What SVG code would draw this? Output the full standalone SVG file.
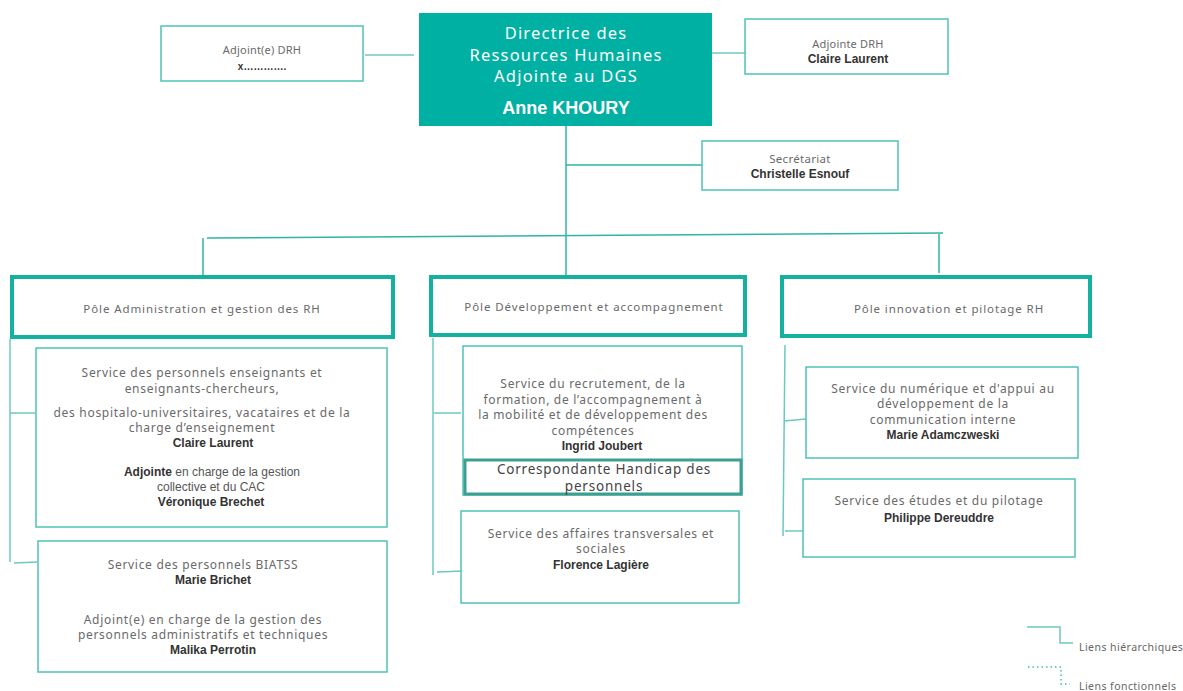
<svg xmlns="http://www.w3.org/2000/svg" width="1183" height="691" viewBox="0 0 1183 691">
<style>
  .bg{fill:#ffffff}
  .box{fill:#ffffff;stroke:#4ec3b6;stroke-width:1.5}
  .pole{fill:#ffffff;stroke:#14b0a0;stroke-width:4}
  .inner{fill:#ffffff;stroke:#3e9e92;stroke-width:3}
  .t{font-family:"Noto Sans","Open Sans",sans-serif;font-size:12px;fill:#6a6a6a;text-anchor:middle;letter-spacing:0.7px}
  .b{font-family:"Liberation Sans",Arial,sans-serif;font-size:12px;font-weight:bold;fill:#333333;text-anchor:middle}
  .a{font-family:"Liberation Sans",Arial,sans-serif;font-size:12px;fill:#555555;text-anchor:middle}
  .w{font-family:"Noto Sans","Open Sans",sans-serif;font-size:16.5px;fill:#ffffff;text-anchor:middle;letter-spacing:1.2px}
  .wb{font-family:"Liberation Sans",Arial,sans-serif;font-size:18px;font-weight:bold;fill:#ffffff;text-anchor:middle}
  .c{font-family:"Noto Sans","Open Sans",sans-serif;font-size:13.5px;fill:#444444;text-anchor:middle;letter-spacing:0.8px}
  .l{font-family:"Noto Sans","Open Sans",sans-serif;font-size:10.5px;fill:#666666;letter-spacing:0.45px}
  .ln{fill:none;stroke:#2fb4a6;stroke-width:1.5}
  .lt{fill:none;stroke:#6cc9bf;stroke-width:1.5}
  .dot{fill:none;stroke:#3fbdb0;stroke-width:1.5;stroke-dasharray:1.5 3}
</style>
<rect class="bg" x="0" y="0" width="1183" height="691"/>

<g id="connectors">
  <line class="lt" x1="365" y1="55" x2="414" y2="55"/>
  <line class="lt" x1="712" y1="53" x2="745" y2="53"/>
  <line class="ln" x1="566" y1="126" x2="566" y2="278"/>
  <line class="ln" x1="566" y1="165" x2="702" y2="165"/>
  <line class="ln" x1="207" y1="238" x2="943" y2="233"/>
  <line class="ln" x1="203" y1="238" x2="203" y2="275"/>
  <line class="ln" x1="939" y1="234" x2="939" y2="273"/>
  <!-- left column -->
  <line class="lt" x1="10" y1="339" x2="10" y2="562"/>
  <line class="lt" x1="10" y1="413" x2="35" y2="413"/>
  <line class="lt" x1="14" y1="563" x2="37" y2="562"/>
  <!-- middle column -->
  <line class="lt" x1="433" y1="338" x2="433" y2="575"/>
  <line class="lt" x1="434" y1="413" x2="461" y2="413"/>
  <line class="lt" x1="437" y1="572" x2="463" y2="571"/>
  <!-- right column -->
  <line class="lt" x1="785" y1="345" x2="783" y2="536"/>
  <line class="lt" x1="784" y1="421" x2="806" y2="419"/>
  <line class="lt" x1="785" y1="531" x2="806" y2="531"/>
</g>

<g id="directrice">
  <rect x="419" y="13" width="293" height="113" fill="#00b0a2"/>
  <text class="w" x="566" y="39">Directrice des</text>
  <text class="w" x="566" y="61">Ressources Humaines</text>
  <text class="w" x="566" y="82">Adjointe au DGS</text>
  <text class="wb" x="566" y="114">Anne KHOURY</text>
</g>

<g id="adjoint-drh-x">
  <rect class="box" x="161" y="26" width="202" height="55"/>
  <text class="t" x="262" y="54" style="font-size:11px;letter-spacing:0.2px">Adjoint(e) DRH</text>
  <text class="b" x="262" y="70" style="font-size:10px">x………….</text>
</g>

<g id="adjointe-drh">
  <rect class="box" x="745" y="19" width="203" height="55"/>
  <text class="t" x="848" y="48" style="font-size:11px;letter-spacing:0.2px">Adjointe DRH</text>
  <text class="b" x="848" y="63">Claire Laurent</text>
</g>

<g id="secretariat">
  <rect class="box" x="702" y="141" width="196" height="49"/>
  <text class="t" x="800" y="163" style="font-size:11.5px;letter-spacing:0.3px">Secrétariat</text>
  <text class="b" x="800" y="178">Christelle Esnouf</text>
</g>

<g id="pole-admin">
  <rect class="pole" x="12" y="277" width="381" height="60"/>
  <text class="t" x="202" y="313" style="font-size:11.5px;letter-spacing:0.9px">Pôle Administration et gestion des RH</text>
</g>

<g id="pole-dev">
  <rect class="pole" x="431" y="277" width="314" height="58"/>
  <text class="t" x="594" y="311" style="font-size:11.5px;letter-spacing:0.9px">Pôle Développement et accompagnement</text>
</g>

<g id="pole-innov">
  <rect class="pole" x="782" y="277" width="308" height="59"/>
  <text class="t" x="949" y="313" style="font-size:11.5px;letter-spacing:0.9px">Pôle innovation et pilotage RH</text>
</g>

<g id="service-enseignants">
  <rect class="box" x="36" y="348" width="351" height="179"/>
  <text class="t" x="202" y="377">Service des personnels enseignants et</text>
  <text class="t" x="202" y="393">enseignants-chercheurs,</text>
  <text class="t" x="202" y="417">des hospitalo-universitaires, vacataires et de la</text>
  <text class="t" x="202" y="432">charge d’enseignement</text>
  <text class="b" x="213" y="447">Claire Laurent</text>
  <text class="a" x="212" y="476"><tspan font-weight="bold" fill="#333333">Adjointe</tspan> en charge de la gestion</text>
  <text class="a" x="211" y="491">collective et du CAC</text>
  <text class="b" x="211" y="506">Véronique Brechet</text>
</g>

<g id="service-biatss">
  <rect class="box" x="38" y="541" width="349" height="131"/>
  <text class="t" x="203" y="569">Service des personnels BIATSS</text>
  <text class="b" x="213" y="584">Marie Brichet</text>
  <text class="t" x="203" y="624">Adjoint(e) en charge de la gestion des</text>
  <text class="t" x="203" y="639">personnels administratifs et techniques</text>
  <text class="b" x="213" y="654">Malika Perrotin</text>
</g>

<g id="service-recrutement">
  <rect class="box" x="463" y="346" width="279" height="149"/>
  <text class="t" x="593" y="388">Service du recrutement, de la</text>
  <text class="t" x="593" y="404">formation, de l’accompagnement à</text>
  <text class="t" x="593" y="419">la mobilité et de développement des</text>
  <text class="t" x="593" y="435">compétences</text>
  <text class="b" x="602" y="450">Ingrid Joubert</text>
</g>

<g id="correspondante-handicap">
  <rect class="inner" x="465" y="460" width="276" height="34"/>
  <text class="c" x="604" y="474">Correspondante Handicap des</text>
  <text class="c" x="604" y="491">personnels</text>
</g>

<g id="service-affaires">
  <rect class="box" x="461" y="511" width="278" height="92"/>
  <text class="t" x="601" y="538">Service des affaires transversales et</text>
  <text class="t" x="601" y="553">sociales</text>
  <text class="b" x="601" y="569">Florence Lagière</text>
</g>

<g id="service-numerique">
  <rect class="box" x="806" y="367" width="272" height="91"/>
  <text class="t" x="943" y="393">Service du numérique et d'appui au</text>
  <text class="t" x="943" y="408">développement de la</text>
  <text class="t" x="943" y="424">communication interne</text>
  <text class="b" x="943" y="439">Marie Adamczweski</text>
</g>

<g id="service-etudes">
  <rect class="box" x="803" y="479" width="272" height="78"/>
  <text class="t" x="939" y="505">Service des études et du pilotage</text>
  <text class="b" x="939" y="522">Philippe Dereuddre</text>
</g>

<g id="legend">
  <polyline class="lt" points="1027,627 1060,627 1060,643 1073,643"/>
  <text class="l" x="1079" y="651">Liens hiérarchiques</text>
  <polyline class="dot" points="1028,667 1061,667 1061,684 1070,684"/>
  <text class="l" x="1079" y="690">Liens fonctionnels</text>
</g>
</svg>
